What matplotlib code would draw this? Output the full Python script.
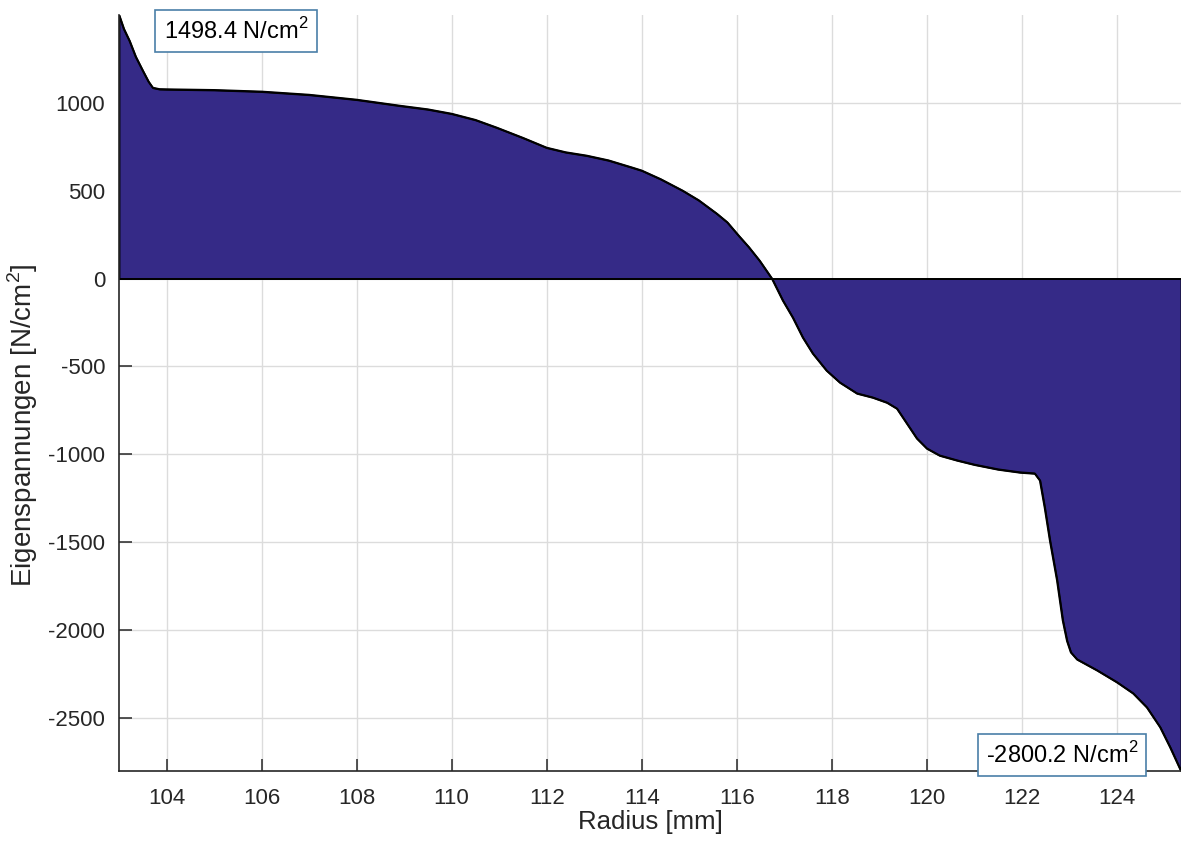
import matplotlib
matplotlib.use("Agg")
import matplotlib.pyplot as plt

# Data
radius = [103.0, 103.1, 103.22, 103.35, 103.5, 103.62, 103.71, 103.85, 104.0, 105.0, 106.0, 107.0, 108.0,
          108.9, 109.5, 110.0, 110.5, 110.95, 111.5, 112.0, 112.4, 112.84, 113.3,
          113.8, 114.0, 114.4, 114.86, 115.2, 115.58, 115.8, 116.04, 116.25, 116.48,
          116.74, 116.97, 117.18, 117.39, 117.6, 117.89, 118.17, 118.53, 118.86, 119.16,
          119.37, 119.58, 119.79, 120.0, 120.27, 120.64, 121.0, 121.5, 121.96, 122.27,
          122.38, 122.48, 122.59, 122.74, 122.86, 122.95, 123.03, 123.16, 123.58, 124.0, 124.34,
          124.63, 124.91, 125.12, 125.35]
stress = [1498.4, 1420, 1352, 1262, 1182, 1120, 1085, 1077, 1076, 1072, 1063, 1045, 1017,
          983, 962, 937, 902, 858, 800, 744, 718, 699, 672,
          631, 614, 565, 500, 445, 369, 320, 244, 180, 102,
          0, -125, -222, -335, -426, -523, -591, -653, -676, -705,
          -739, -824, -909, -966, -1006, -1034, -1058, -1085, -1102, -1108,
          -1148, -1301, -1489, -1716, -1943, -2060, -2125, -2165, -2227, -2295, -2358,
          -2438, -2551, -2665, -2800.2]

x_ticks = [104, 106, 108, 110, 112, 114, 116, 118, 120, 122, 124]
y_ticks = [-2500, -2000, -1500, -1000, -500, 0, 500, 1000]
max_label = "1498.4 N/cm$^2$"
min_label = "-2800.2 N/cm$^2$"

plt.rcParams['font.family'] = ['Liberation Sans', 'DejaVu Sans']
plt.rcParams['mathtext.fontset'] = 'custom'
plt.rcParams['mathtext.rm'] = 'Liberation Sans'
plt.rcParams['axes.unicode_minus'] = False

fig = plt.figure(figsize=(11.81, 8.41), dpi=100)
ax = fig.add_axes([119/1181, 1 - 771/841, 1 - 119/1181, (771 - 15)/841])

fill_color = '#352A87'
text_color = '#262626'
fs = 16

ax.fill_between(radius, stress, 0, facecolor=fill_color, edgecolor='black',
                linewidth=1.3, zorder=2)
ax.plot(radius, stress, color='black', linewidth=1.4, zorder=3)
ax.axhline(0, color='black', linewidth=1.3, zorder=3)

ax.set_xlim(min(radius), max(radius))
ax.set_ylim(min(stress), max(stress))
ax.set_xticks(x_ticks)
ax.set_yticks(y_ticks)

ax.grid(True, color='#dcdcdc', linewidth=1.0, zorder=0)
ax.set_axisbelow(True)

for s in ['top', 'right']:
    ax.spines[s].set_visible(False)
for s in ['left', 'bottom']:
    ax.spines[s].set_color(text_color)
    ax.spines[s].set_linewidth(1.2)
    ax.spines[s].set_zorder(4)

ax.tick_params(direction='in', length=9, width=1.1, color=text_color,
               labelcolor=text_color, labelsize=fs)
ax.tick_params(axis='x', pad=12)
ax.tick_params(axis='y', pad=10)

ax.set_xlabel('Radius [mm]', fontsize=18.5, color=text_color, labelpad=1)
ax.set_ylabel('Eigenspannungen [N/cm$^2$]', fontsize=20, color=text_color)
ax.yaxis.set_label_coords((40 - 119)/1062, (771 - 425)/756)

box = dict(boxstyle='square,pad=0.35', facecolor='white', edgecolor='#4a7fa8', linewidth=1.2)
ax.text((236 - 119)/1062, (771 - 31)/756, max_label, transform=ax.transAxes,
        ha='center', va='center', fontsize=17, color='black', bbox=box, zorder=6)
ax.text((1062 - 119)/1062, (771 - 755)/756, min_label, transform=ax.transAxes,
        ha='center', va='center', fontsize=17, color='black', bbox=box, zorder=6,
        clip_on=False)

fig.savefig('out.png', dpi=100)
